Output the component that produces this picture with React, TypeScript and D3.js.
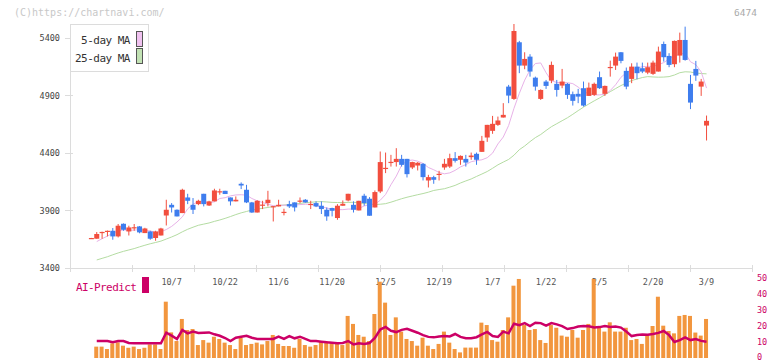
import React from "react";
import * as d3 from "d3";

// trading days shown on the chart
const dates = [
  "9/12", "9/16", "9/17", "9/18", "9/19", "9/22", "9/24", "9/25", "9/26", "9/29", "9/30",
  "10/1", "10/2", "10/3", "10/6", "10/7", "10/8", "10/9", "10/10", "10/14", "10/15", "10/16",
  "10/17", "10/20", "10/21", "10/22", "10/23", "10/24", "10/27", "10/28", "10/29", "10/30", "10/31",
  "11/4", "11/5", "11/6", "11/7", "11/10", "11/11", "11/12", "11/13", "11/14", "11/17", "11/18",
  "11/19", "11/20", "11/21", "11/25", "11/26", "11/27", "11/28",
  "12/1", "12/2", "12/3", "12/4", "12/5", "12/8", "12/9", "12/10", "12/11", "12/12", "12/15",
  "12/16", "12/17", "12/18", "12/19", "12/22", "12/23", "12/24", "12/25", "12/26", "12/29", "12/30",
  "1/5", "1/6", "1/7", "1/8", "1/9", "1/13", "1/14", "1/15", "1/16", "1/19", "1/20", "1/21",
  "1/22", "1/23", "1/26", "1/27", "1/28", "1/29", "1/30",
  "2/2", "2/3", "2/4", "2/5", "2/6", "2/9", "2/10", "2/12", "2/13", "2/16", "2/17", "2/18",
  "2/19", "2/20", "2/24", "2/25", "2/26", "2/27",
  "3/2", "3/3", "3/4", "3/5", "3/6", "3/9",
];

const tickDates = ["10/7", "10/22", "11/6", "11/20", "12/5", "12/19", "1/7", "1/22", "2/5", "2/20", "3/9"];
const priceTicks = [3400, 3900, 4400, 4900, 5400];
const subTicks = [0, 10, 20, 30, 40, 50];

// [open, high, low, close]
const ohlc: [number, number, number, number][] = [
  [3658, 3662, 3657, 3661], [3655, 3713, 3655, 3696], [3710, 3716, 3655, 3714], [3720, 3726, 3675, 3724],
  [3724, 3748, 3646, 3675], [3675, 3783, 3666, 3768], [3785, 3788, 3724, 3733], [3718, 3768, 3683, 3753],
  [3750, 3783, 3724, 3755], [3762, 3765, 3702, 3710], [3704, 3750, 3704, 3744], [3718, 3724, 3646, 3655],
  [3661, 3724, 3637, 3718], [3683, 3750, 3683, 3744], [3857, 3994, 3770, 3907], [3950, 3965, 3883, 3927],
  [3907, 3910, 3849, 3849], [3878, 4090, 3878, 4081], [4014, 4046, 3956, 3985], [3950, 4009, 3870, 3907],
  [3956, 3994, 3947, 3985], [4046, 4046, 3936, 3956], [3944, 3985, 3940, 3980], [3980, 4090, 3980, 4075],
  [4062, 4090, 4038, 4068], [4072, 4072, 4044, 4044], [4014, 4014, 3944, 3980], [3980, 4023, 3980, 3994],
  [4133, 4145, 4087, 4118], [4081, 4124, 3965, 3971], [3971, 3975, 3880, 3883], [3883, 3990, 3883, 3985],
  [3948, 3985, 3913, 3952], [3965, 4072, 3936, 3994], [3934, 3940, 3805, 3938], [3936, 3994, 3936, 3950],
  [3885, 3916, 3858, 3889], [3956, 3985, 3922, 3936], [3971, 3971, 3892, 3927], [3983, 4014, 3965, 3987],
  [3994, 4000, 3968, 3971], [3954, 3985, 3913, 3958], [3965, 3980, 3930, 3936], [3942, 3980, 3870, 3913],
  [3907, 3927, 3811, 3849], [3922, 3925, 3849, 3898], [3835, 3956, 3820, 3942], [3942, 3988, 3942, 3959],
  [3988, 4046, 3980, 4046], [3950, 3980, 3883, 3907], [3901, 3985, 3901, 3985], [4029, 4046, 3942, 3965],
  [4003, 4017, 3855, 3855], [3927, 4075, 3927, 4061], [4066, 4414, 4052, 4322], [4268, 4405, 4226, 4272],
  [4320, 4385, 4283, 4324], [4322, 4443, 4283, 4350], [4350, 4385, 4283, 4298], [4350, 4350, 4188, 4217],
  [4275, 4325, 4261, 4322], [4292, 4322, 4249, 4316], [4307, 4313, 4162, 4191], [4162, 4211, 4101, 4191],
  [4191, 4203, 4133, 4168], [4215, 4246, 4162, 4220], [4275, 4350, 4255, 4307], [4283, 4395, 4270, 4356],
  [4356, 4409, 4318, 4333], [4342, 4380, 4298, 4376], [4350, 4385, 4283, 4318], [4365, 4405, 4342, 4379],
  [4394, 4405, 4298, 4342], [4411, 4550, 4411, 4507], [4536, 4646, 4498, 4646], [4594, 4724, 4568, 4655],
  [4646, 4718, 4637, 4684], [4710, 4835, 4710, 4733], [4979, 4994, 4835, 4901], [4872, 5524, 4863, 5463],
  [5365, 5377, 5096, 5162], [5162, 5278, 5130, 5220], [5240, 5261, 5066, 5110], [5057, 5066, 4944, 4979],
  [4872, 4955, 4863, 4950], [5023, 5037, 4959, 4985], [5031, 5197, 5009, 5168], [5003, 5037, 4892, 4950],
  [4988, 5133, 4965, 5023], [5003, 5010, 4872, 4907], [4913, 4936, 4814, 4855], [4916, 4959, 4835, 4892],
  [4965, 5023, 4805, 4814], [4898, 5014, 4898, 4970], [4907, 5014, 4898, 5003], [5061, 5110, 4959, 4965],
  [4916, 4988, 4898, 4985], [5146, 5205, 5066, 5150], [5162, 5275, 5124, 5240], [5278, 5280, 5182, 5203],
  [5116, 5145, 4956, 4979], [5046, 5182, 5009, 5153], [5153, 5188, 5043, 5096], [5139, 5188, 5096, 5110],
  [5101, 5188, 5087, 5148], [5090, 5205, 5081, 5188], [5110, 5327, 5110, 5284], [5350, 5371, 5197, 5235],
  [5246, 5270, 5148, 5168], [5174, 5380, 5148, 5377], [5249, 5449, 5188, 5385], [5385, 5501, 5205, 5211],
  [5003, 5081, 4783, 4840], [5133, 5203, 5029, 5075], [4979, 5046, 4898, 5023], [4640, 4727, 4510, 4681],
];

const ma5 = [
  null, 3630, 3655, 3678, 3703, 3722, 3732, 3728, 3730, 3733, 3728, 3722, 3711, 3715, 3735, 3762,
  3800, 3845, 3915, 3955, 3980, 3975, 3968, 3976, 4005, 4012, 4028, 4036, 4038, 4034, 4005, 3985,
  3970, 3955, 3942, 3945, 3947, 3945, 3948, 3952, 3955, 3955, 3940, 3934, 3922, 3912, 3908, 3908,
  3913, 3913, 3918, 3940, 3950, 3955, 3990, 4040, 4125, 4200, 4295, 4333, 4340, 4330, 4310, 4275,
  4255, 4232, 4220, 4228, 4250, 4280, 4300, 4325, 4335, 4342, 4360, 4400, 4480, 4540, 4640, 4790,
  4920, 5035, 5124, 5180, 5185, 5100, 5030, 5015, 5014, 5013, 5005, 4975, 4935, 4918, 4907, 4907,
  4912, 4945, 4995, 5060, 5100, 5124, 5140, 5152, 5155, 5155, 5170, 5188, 5220, 5245, 5262, 5270,
  5195, 5170, 5107, 4966,
];

const ma25 = [
  null, 3470, 3484, 3498, 3515, 3531, 3545, 3557, 3569, 3584, 3598, 3611, 3622, 3634, 3652, 3670,
  3690, 3715, 3737, 3755, 3772, 3782, 3792, 3806, 3818, 3832, 3848, 3865, 3880, 3892, 3905, 3912,
  3920, 3927, 3935, 3944, 3948, 3952, 3957, 3962, 3968, 3972, 3976, 3978, 3975, 3971, 3970, 3970,
  3971, 3972, 3968, 3962, 3956, 3952, 3955, 3960, 3973, 3988, 4003, 4016, 4027, 4038, 4048, 4060,
  4075, 4083, 4090, 4104, 4119, 4140, 4158, 4175, 4197, 4218, 4240, 4268, 4298, 4322, 4345, 4382,
  4430, 4462, 4500, 4535, 4562, 4597, 4630, 4656, 4682, 4708, 4738, 4770, 4800, 4828, 4855, 4880,
  4908, 4935, 4962, 4988, 5010, 5032, 5045, 5058, 5066, 5063, 5061, 5062, 5066, 5080, 5100, 5108,
  5106, 5097, 5093, 5090,
];

const volume = [
  null, 7.1, 7.1, 5.6, 9.2, 9.8, 7.7, 6.4, 7.1, 5.6, 6.4, 8.5, 8.5, 5.6, 35.2, 16.0,
  10.6, 24.4, 17.5, 18.1, 8.1, 11.2, 9.6, 13.3, 11.9, 9.6, 8.1, 5.6, 12.7, 8.1, 8.8, 9.6,
  8.5, 10.6, 14.4, 8.8, 7.5, 7.5, 6.4, 11.9, 8.1, 7.1, 8.1, 10.6, 10.6, 9.6, 9.6, 8.1,
  26.3, 21.3, 14.4, 13.3, 10.6, 27.5, 47.7, 34.6, 14.4, 25.4, 16.5, 11.9, 10.6, 7.7, 12.7, 7.7,
  5.6, 8.8, 16.5, 9.6, 5.6, 3.5, 6.5, 6.5, 6.5, 22.1, 20.6, 11.2, 10.2, 17.5, 25.4, 45.2,
  49.4, 20.6, 17.5, 18.1, 11.2, 9.4, 20.6, 18.9, 14.0, 13.3, 17.5, 12.7, 17.5, 21.3, 49.4, 18.9,
  16.5, 22.3, 16.5, 16.5, 18.9, 11.2, 11.9, 8.8, 14.8, 20.0, 38.3, 20.2, 16.9, 15.4, 26.3, 26.9,
  26.3, 15.9, 14.0, 24.4,
];

const aiPredict = [
  null, 10.6, 10.6, 10.6, 9.8, 10.6, 10.6, 9.4, 9.2, 9.2, 9.2, 9.2, 9.2, 9.2, 15.8, 14.0,
  11.9, 17.5, 15.4, 16.5, 15.6, 15.8, 16.0, 14.8, 13.9, 12.5, 10.6, 12.7, 13.3, 13.9, 12.7, 11.9,
  11.9, 11.9, 11.9, 13.3, 11.9, 13.7, 12.3, 13.3, 11.9, 10.6, 10.6, 10.2, 9.8, 9.6, 9.2, 9.4,
  10.6, 8.5, 9.2, 8.8, 9.4, 12.5, 17.8, 19.4, 17.0, 16.2, 17.6, 18.2, 17.0, 15.8, 14.3, 13.2,
  12.9, 13.5, 13.8, 13.5, 15.0, 13.2, 12.4, 12.3, 13.0, 14.8, 16.3, 13.7, 13.2, 16.5, 15.4, 21.4,
  20.5, 21.8, 20.0, 22.0, 21.8, 20.2, 21.8, 21.0, 19.9, 18.1, 18.7, 19.7, 20.0, 19.8, 19.1, 19.3,
  20.0, 19.4, 19.7, 19.0, 16.6, 13.7, 14.4, 14.7, 14.5, 15.0, 15.7, 16.9, 14.3, 10.0, 11.2, 12.9,
  11.2, 11.9, 10.7, 10.2,
];

const W = 772;
const H = 361;
const plotLeft = 70;
const plotRight = 752;
const plotTop = 24;
const plotBottom = 268;
const subTop = 278;
const subBottom = 358;

const UP = "#f24e3e";
const DOWN = "#3e7dee";
const MONO = "'DejaVu Sans Mono', 'Liberation Mono', monospace";

const App = () => {
  // a few empty slots on the left, more on the right, like the original
  const x = d3.scaleLinear().domain([-4, dates.length + 7.5]).range([plotLeft, plotRight]);
  const y = d3
    .scaleLinear()
    .domain([3400, d3.max(ohlc, d => d[1]) as number])
    .range([plotBottom, plotTop]);
  const ySub = d3.scaleLinear().domain([0, 50]).range([subBottom, subTop]);

  const priceLine = d3
    .line<number | null>()
    .defined(v => v != null)
    .x((_, i) => x(i))
    .y(v => y(v as number));
  const subLine = d3
    .line<number | null>()
    .defined(v => v != null)
    .x((_, i) => x(i))
    .y(v => ySub(v as number));

  const gridX = d3.range(12).map(k => plotLeft + (k * (plotRight - plotLeft)) / 11);
  const bodyW = 5;
  const barW = 4;

  return (
    <svg
      width={W}
      height={H}
      style={{ position: "absolute", left: 0, top: 0, background: "#fff" }}
      fontFamily={MONO}
    >
      <text x={14} y={15.5} fontSize={10} fill="#c8c8c8">
        (C)https://chartnavi.com/
      </text>
      <text x={757} y={15.5} fontSize={9.5} fill="#aaa" textAnchor="end">
        6474
      </text>

      {/* axes */}
      <g stroke="#dcdcdc" strokeWidth={1} shapeRendering="crispEdges">
        <line x1={plotLeft} x2={plotLeft} y1={plotTop} y2={plotBottom} />
        <line x1={plotLeft} x2={plotRight} y1={plotBottom} y2={plotBottom} />
        {gridX.map((gx, k) => (
          <line key={k} x1={gx} x2={gx} y1={plotBottom - 3} y2={plotBottom + 4} />
        ))}
        {priceTicks.map(t => (
          <line key={t} x1={plotLeft - 5} x2={plotLeft + 3} y1={y(t)} y2={y(t)} />
        ))}
      </g>
      {priceTicks.map(t => (
        <text key={t} x={60} y={y(t)} dy="0.35em" fontSize={8.5} fill="#444" textAnchor="end">
          {t}
        </text>
      ))}
      {tickDates.map(d => (
        <text
          key={d}
          x={x(dates.indexOf(d))}
          y={285}
          fontSize={8.5}
          fill="#555"
          textAnchor="middle"
        >
          {d}
        </text>
      ))}

      {/* moving averages */}
      <path d={priceLine(ma25) || ""} fill="none" stroke="#b4dca2" strokeWidth={1} />
      <path d={priceLine(ma5) || ""} fill="none" stroke="#e8b2e8" strokeWidth={1} />

      {/* candles */}
      {ohlc.map(([o, h, l, c], i) => {
        const col = c >= o ? UP : DOWN;
        const top = y(Math.max(o, c));
        const bh = Math.max(1.2, Math.abs(y(o) - y(c)));
        return (
          <g key={i}>
            <line x1={x(i)} x2={x(i)} y1={y(h)} y2={y(l)} stroke={col} strokeWidth={1} />
            <rect x={x(i) - bodyW / 2} y={top} width={bodyW} height={bh} fill={col} />
          </g>
        );
      })}

      {/* legend */}
      <rect x={plotLeft} y={plotTop} width={78} height={47} fill="#fff" stroke="#dcdcdc" shapeRendering="crispEdges" />
      <text x={130} y={44} fontSize={11} letterSpacing={-0.5} fill="#333" textAnchor="end">
        5-day MA
      </text>
      <text x={130} y={61.5} fontSize={11} letterSpacing={-0.5} fill="#333" textAnchor="end">
        25-day MA
      </text>
      <rect x={136.5} y={31.5} width={6} height={15} fill="#f0c2f0" stroke="#555" />
      <rect x={136.5} y={48.5} width={6} height={15} fill="#c2e2b4" stroke="#555" />

      {/* AI-Predict panel */}
      <text x={76} y={291} fontSize={11} letterSpacing={-0.6} fill="#cc0066">
        AI-Predict
      </text>
      <rect x={142} y={277} width={7} height={16} fill="#cc0066" />
      {volume.map((v, i) =>
        v == null ? null : (
          <rect
            key={i}
            x={x(i) - barW / 2 - 0.5}
            y={ySub(v)}
            width={barW}
            height={subBottom - ySub(v)}
            fill="#f2963e"
          />
        )
      )}
      <path d={subLine(aiPredict) || ""} fill="none" stroke="#cc0066" strokeWidth={2.5} />
      {subTicks.map(t => (
        <text key={t} x={757} y={Math.min(ySub(t) + 3, 359.5)} fontSize={8.5} fill="#cc0066">
          {t}
        </text>
      ))}
    </svg>
  );
};

export default App;
